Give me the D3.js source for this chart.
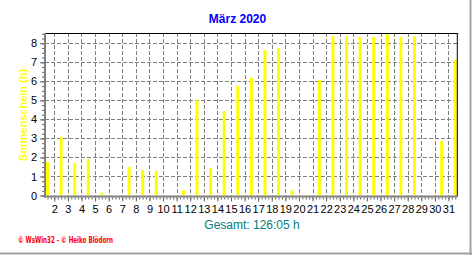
<!DOCTYPE html>
<html><head><meta charset="utf-8">
<script src="https://cdn.jsdelivr.net/npm/d3@7"></script>
<style>
body{margin:0;background:#fff;}
svg{display:block;font-family:"Liberation Sans",Arial,sans-serif;}
</style></head>
<body><svg id="c" width="472" height="255"></svg>
<script>
const title = "März 2020";
const yTitle = "Sonnenschein (h)";
const totalLabel = "Gesamt: 126:05 h";
const footer = "\u00a9 WsWin32 - \u00a9 Heiko Blödorn";
const days = d3.range(1, 32);
const sunshine = [1.77,3.08,1.72,1.91,0.14,0.03,1.5,1.33,1.28,0.03,0.28,5.01,1.44,4.44,5.75,6.17,7.65,7.75,0.28,0.03,6.07,8.38,8.38,8.33,8.33,8.49,8.33,8.38,0.03,2.86,7.14];
const xTickLabels = d3.range(2, 32);
const yTicks = [0,1,2,3,4,5,6,7,8];

const svg = d3.select("#c");
const L = 45, R = 457.3, T = 33, B = 195.5;
const x = d3.scaleLinear().domain([1.316, 31.65]).range([L, R]);
const y = d3.scaleLinear().domain([0, 8.54]).range([B, T]);

// outer frame (right & bottom)
svg.append("line").attr("x1",470.5).attr("x2",470.5).attr("y1",0).attr("y2",255).attr("stroke","#a0a0a0").attr("stroke-width",2);
svg.append("line").attr("x1",0).attr("x2",472).attr("y1",253.5).attr("y2",253.5).attr("stroke","#a0a0a0").attr("stroke-width",2);

// grid
const g = svg.append("g");
g.selectAll("line.h").data(yTicks.filter(v=>v>0)).join("line")
  .attr("x1",L).attr("x2",R).attr("y1",d=>Math.round(y(d))+0.5).attr("y2",d=>Math.round(y(d))+0.5)
  .attr("stroke","#808080").attr("stroke-dasharray","4,2");
g.selectAll("line.v").data(xTickLabels).join("line")
  .attr("x1",d=>Math.round(x(d))+0.5).attr("x2",d=>Math.round(x(d))+0.5).attr("y1",T).attr("y2",B)
  .attr("stroke","#808080").attr("stroke-dasharray","4,2");

// bars
svg.append("defs").append("clipPath").attr("id","pc").append("rect").attr("x",L).attr("y",T).attr("width",R-L).attr("height",B-T);
svg.append("g").attr("clip-path","url(#pc)").selectAll("rect").data(days).join("rect")
  .attr("x",(d)=>x(d+0.5)-1.5).attr("width",3)
  .attr("y",(d,i)=>y(sunshine[i])).attr("height",(d,i)=>B-y(sunshine[i]))
  .attr("fill","#ffff00");

// frame lines
svg.append("line").attr("x1",L).attr("x2",R+1).attr("y1",T+0.5).attr("y2",T+0.5).attr("stroke","#000");
svg.append("line").attr("x1",R).attr("x2",R).attr("y1",T).attr("y2",B+1).attr("stroke","#000");

// axes
const axY = svg.append("g").attr("transform",`translate(${L-1},0)`)
  .call(d3.axisLeft(y).tickValues(yTicks).tickSize(4).tickPadding(3).tickFormat(d3.format("d")));
const axYm = svg.append("g").attr("transform",`translate(${L-1},0)`)
  .call(d3.axisLeft(y).tickValues(d3.range(0,8.51,0.25)).tickSize(2).tickFormat(""));
const axX = svg.append("g").attr("transform",`translate(0,${B+2})`)
  .call(d3.axisBottom(x).tickValues(xTickLabels).tickSize(4).tickPadding(4).tickFormat(d3.format("d")));
const axXm = svg.append("g").attr("transform",`translate(0,${B+2})`)
  .call(d3.axisBottom(x).tickValues(d3.range(1.5,31.6,0.25)).tickSize(2).tickFormat(""));
[axY,axYm,axX,axXm].forEach(a=>{
  a.select(".domain").remove();
  a.selectAll(".tick line").attr("stroke","#606060");
  a.selectAll("text").attr("font-family","'Liberation Sans',Arial,sans-serif").attr("font-size",11).attr("fill","#000");
});
// axis lines (gray, thick)
svg.append("line").attr("x1",L).attr("x2",L).attr("y1",T).attr("y2",B+2).attr("stroke","#808080").attr("stroke-width",2);
svg.append("line").attr("x1",L-1).attr("x2",R).attr("y1",B+1).attr("y2",B+1).attr("stroke","#808080").attr("stroke-width",2);

// texts
svg.append("text").attr("x",237.5).attr("y",23).attr("text-anchor","middle")
  .attr("font-size",12).attr("font-weight","bold").attr("fill","#0000ff").text(title);
svg.append("text").attr("transform","translate(27,115) rotate(-90)").attr("text-anchor","middle")
  .attr("font-size",11).attr("font-weight","bold").attr("fill","#ffff00").text(yTitle);
svg.append("text").attr("x",252).attr("y",229).attr("text-anchor","middle")
  .attr("font-size",12).attr("fill","#008080").text(totalLabel);
svg.append("text").attr("x",18).attr("y",243).attr("textLength",95).attr("lengthAdjust","spacingAndGlyphs")
  .attr("font-size",8).attr("font-weight","bold").attr("font-family","'DejaVu Sans',sans-serif").attr("fill","#ff0000").text(footer);
</script></body></html>
